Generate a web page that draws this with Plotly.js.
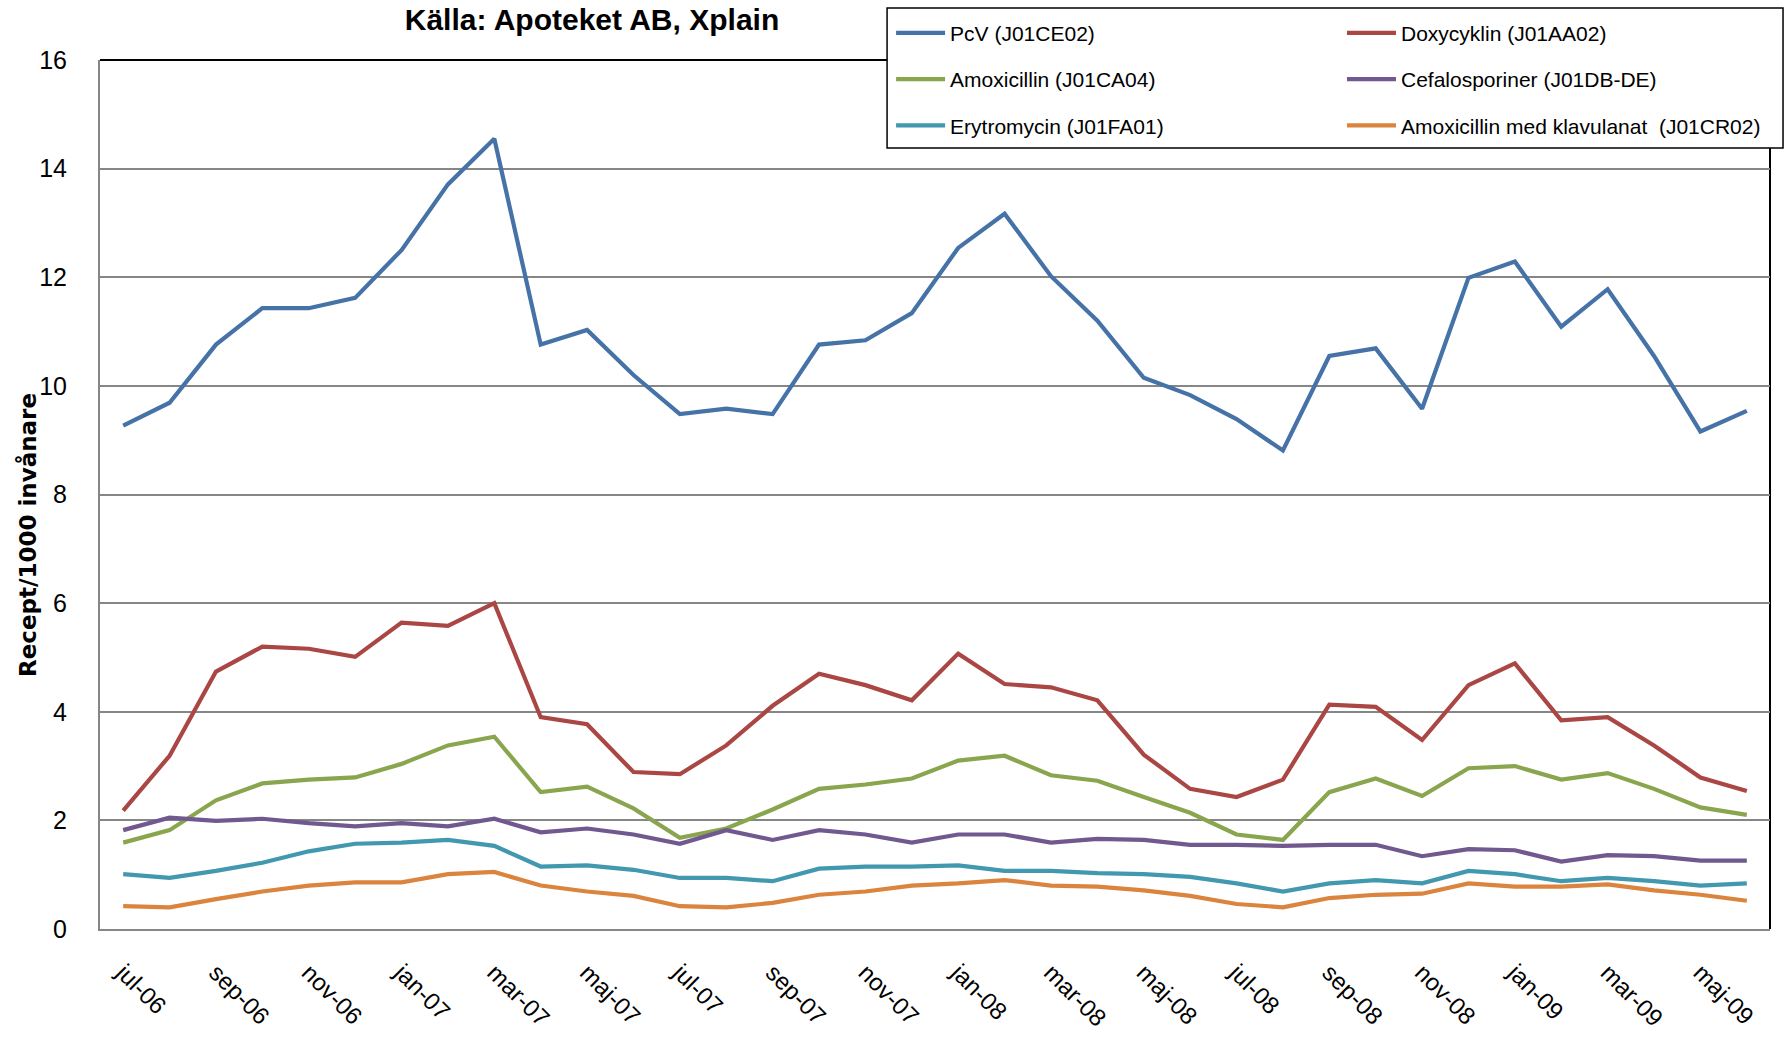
<!DOCTYPE html>
<html>
<head>
<meta charset="utf-8">
<script src="https://cdn.plot.ly/plotly-3.0.1.min.js"></script>
<style>html,body{margin:0;padding:0;background:#fff;}#chart{width:1785px;height:1039px;}</style>
</head>
<body>
<div id="chart"></div>
<script>
const months = ["jul-06","aug-06","sep-06","okt-06","nov-06","dec-06",
  "jan-07","feb-07","mar-07","apr-07","maj-07","jun-07",
  "jul-07","aug-07","sep-07","okt-07","nov-07","dec-07",
  "jan-08","feb-08","mar-08","apr-08","maj-08","jun-08",
  "jul-08","aug-08","sep-08","okt-08","nov-08","dec-08",
  "jan-09","feb-09","mar-09","apr-09","maj-09","jun-09"];

const pcv = [9.27,9.69,10.76,11.43,11.43,11.62,12.5,13.71,14.55,10.76,11.03,10.2,
  9.48,9.58,9.48,10.76,10.84,11.34,12.54,13.17,12.02,11.2,10.15,9.83,
  9.39,8.81,10.55,10.69,9.58,11.99,12.29,11.09,11.78,10.55,9.16,9.54];
const doxy = [2.18,3.19,4.74,5.2,5.16,5.01,5.64,5.58,6.0,3.9,3.77,2.89,
  2.85,3.38,4.11,4.7,4.49,4.21,5.07,4.51,4.45,4.21,3.21,2.58,
  2.43,2.75,4.13,4.09,3.48,4.49,4.89,3.84,3.9,3.38,2.79,2.54];
const amox = [1.59,1.82,2.37,2.68,2.75,2.79,3.04,3.38,3.54,2.52,2.62,2.22,
  1.68,1.85,2.2,2.58,2.66,2.77,3.1,3.19,2.83,2.73,2.43,2.14,
  1.74,1.64,2.52,2.77,2.45,2.96,3.0,2.75,2.87,2.58,2.24,2.1];
const cefa = [1.82,2.05,1.99,2.03,1.95,1.89,1.95,1.89,2.03,1.78,1.85,1.74,
  1.57,1.82,1.64,1.82,1.74,1.59,1.74,1.74,1.59,1.66,1.64,1.55,
  1.55,1.53,1.55,1.55,1.34,1.47,1.45,1.24,1.36,1.34,1.26,1.26];
const eryt = [1.01,0.94,1.07,1.22,1.43,1.57,1.59,1.64,1.53,1.15,1.17,1.09,
  0.94,0.94,0.88,1.11,1.15,1.15,1.17,1.07,1.07,1.03,1.01,0.96,
  0.84,0.69,0.84,0.9,0.84,1.07,1.01,0.88,0.94,0.88,0.8,0.84];
const amoxKlav = [0.42,0.4,0.55,0.69,0.8,0.86,0.86,1.01,1.05,0.8,0.69,0.61,
  0.42,0.4,0.48,0.63,0.69,0.8,0.84,0.9,0.8,0.78,0.71,0.61,
  0.46,0.4,0.57,0.63,0.65,0.84,0.78,0.78,0.82,0.71,0.63,0.52];

const seriesNames = ["PcV (J01CE02)","Doxycyklin (J01AA02)","Amoxicillin (J01CA04)",
  "Cefalosporiner (J01DB-DE)","Erytromycin (J01FA01)","Amoxicillin med klavulanat  (J01CR02)"];
const seriesValues = [pcv, doxy, amox, cefa, eryt, amoxKlav];
const seriesColors = ["#4572A7","#AA4643","#89A54E","#71588F","#4198AF","#DB843D"];
const seriesLegend = ["legend","legend2","legend","legend2","legend","legend2"];

const baseFont = "Liberation Sans, Arial, sans-serif";

const traces = seriesValues.map((vals, i) => ({
  type: "scatter",
  mode: "lines",
  x: months,
  y: vals,
  name: seriesNames[i].replace(/ /g, "\u00a0"),
  line: {color: seriesColors[i], width: 4.2},
  legend: seriesLegend[i],
  legendgroup: "g" + i,
  hoverinfo: "x+y+name"
}));

const legendCommon = {
  orientation: "v",
  bgcolor: "rgba(0,0,0,0)",
  borderwidth: 0,
  traceorder: "grouped",
  tracegroupgap: 16,
  itemwidth: 49,
  font: {family: baseFont, size: 21, color: "#000"},
  xref: "paper", yref: "paper",
  xanchor: "left", yanchor: "top",
  y: 1.0545
};

const layout = {
  width: 1785, height: 1039,
  margin: {l: 100, r: 15, t: 60, b: 110, autoexpand: false},
  paper_bgcolor: "#fff", plot_bgcolor: "#fff",
  font: {family: baseFont, size: 25, color: "#000"},
  title: {
    text: "<b>Källa: Apoteket AB, Xplain</b>",
    font: {family: baseFont, size: 30, color: "#000"},
    xref: "paper", x: 0.2946, xanchor: "center",
    yref: "container", y: 0.981, yanchor: "middle"
  },
  xaxis: {
    type: "category",
    range: [-0.5, months.length - 0.5],
    tickmode: "array",
    tickvals: months.filter((m, i) => i % 2 === 0),
    ticktext: months.filter((m, i) => i % 2 === 0),
    tickangle: 45,
    ticks: "",
    ticklabelstandoff: 18,
    tickfont: {family: baseFont, size: 24, color: "#000"},
    showgrid: false,
    zeroline: false,
    showline: true, linecolor: "#868686", linewidth: 2
  },
  yaxis: {
    range: [0, 16],
    tickmode: "linear", tick0: 0, dtick: 2,
    ticks: "",
    ticklabelstandoff: 26,
    tickfont: {family: baseFont, size: 25, color: "#000"},
    showgrid: true, gridcolor: "#868686", gridwidth: 1.5,
    zeroline: false,
    showline: true, linecolor: "#868686", linewidth: 2
  },
  annotations: [{
    text: "<b>Recept/1000 invånare</b>",
    font: {family: "DejaVu Sans, Verdana, sans-serif", size: 23, color: "#000"},
    textangle: -90,
    xref: "paper", yref: "paper",
    x: -0.0431, y: 0.4534,
    xanchor: "center", yanchor: "middle",
    showarrow: false
  }],
  showlegend: true,
  legend: Object.assign({}, legendCommon, {x: 0.4737}),
  legend2: Object.assign({}, legendCommon, {x: 0.7437}),
  shapes: [
    {type: "line", xref: "paper", yref: "paper", x0: 0, x1: 1, y0: 1, y1: 1,
     line: {color: "#000", width: 2}, layer: "below"},
    {type: "line", xref: "paper", yref: "paper", x0: 1, x1: 1, y0: 0, y1: 1,
     line: {color: "#000", width: 2}, layer: "below"},
    {type: "rect", xref: "paper", yref: "paper", x0: 0.4713, x1: 1.0078, y0: 0.8988, y1: 1.0598,
     line: {color: "#000", width: 1.5}, fillcolor: "#fff", layer: "above"}
  ]
};

Plotly.newPlot("chart", traces, layout, {displayModeBar: false, responsive: false});
</script>
</body>
</html>
